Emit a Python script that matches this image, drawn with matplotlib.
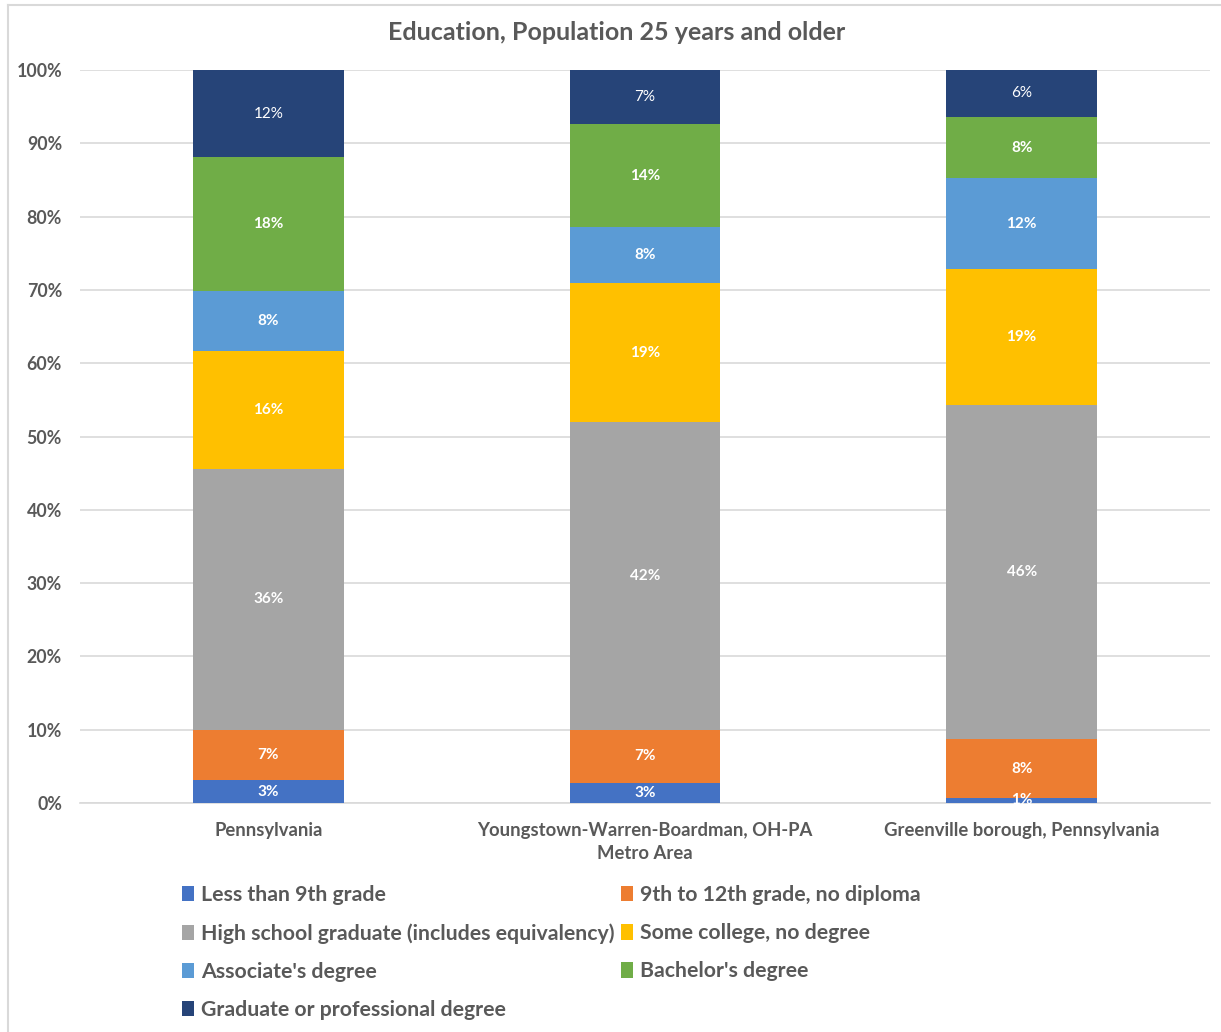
import matplotlib
matplotlib.use("Agg")
import matplotlib.pyplot as plt
from matplotlib.lines import Line2D
from matplotlib.patches import Patch
import numpy as np

plt.rcParams['font.family'] = ['Lato', 'DejaVu Sans']

areas = ["Pennsylvania",
         "Youngstown-Warren-Boardman, OH-PA\nMetro Area",
         "Greenville borough, Pennsylvania"]

levels = ["Less than 9th grade",
          "9th to 12th grade, no diploma",
          "High school graduate (includes equivalency)",
          "Some college, no degree",
          "Associate's degree",
          "Bachelor's degree",
          "Graduate or professional degree"]

# share of population 25+ (percent), one list per education level
less_than_9th = [3.1, 2.7, 0.7]
grade_9_to_12 = [6.9, 7.3, 8.0]
high_school = [35.6, 42.0, 45.6]
some_college = [16.1, 18.9, 18.6]
associate = [8.1, 7.7, 12.3]
bachelor = [18.3, 14.0, 8.4]
graduate = [11.9, 7.4, 6.4]

series = [less_than_9th, grade_9_to_12, high_school, some_college,
          associate, bachelor, graduate]
colors = ["#4472C4", "#ED7D31", "#A5A5A5", "#FFC000",
          "#5B9BD5", "#70AD47", "#264478"]

W, H = 1221, 1032
fig = plt.figure(figsize=(W / 100, H / 100), dpi=100)
ax = fig.add_axes([80 / W, 1 - 803 / H, (1210 - 80) / W, (803 - 70) / H])

x = np.arange(len(areas))
bottom = np.zeros(len(areas))
for vals, col, name in zip(series, colors, levels):
    vals = np.array(vals)
    ax.bar(x, vals, 0.40, bottom=bottom, color=col, label=name,
           edgecolor="none", zorder=3)
    for xi, v, b in zip(x, vals, bottom):
        weight = "normal" if name.startswith("Graduate") else "bold"
        ax.text(xi, b + v / 2, f"{v:.0f}%", ha="center", va="center",
                color="white", fontsize=11, fontweight=weight, zorder=4)
    bottom += vals

ax.set_xlim(-0.5, 2.5)
ax.set_ylim(0, 100)
ax.set_yticks(np.arange(0, 101, 10))
ax.set_yticklabels([f"{t}%" for t in range(0, 101, 10)])
ax.yaxis.grid(True, color="#D9D9D9", linewidth=1.2, zorder=0)
for s in ax.spines.values():
    s.set_visible(False)
ax.spines["bottom"].set_visible(True)
ax.spines["bottom"].set_color("#D9D9D9")
ax.spines["bottom"].set_linewidth(1.2)
ax.tick_params(axis="both", length=0, colors="#595959")
ax.tick_params(axis="y", pad=13, labelsize=12.8)
ax.tick_params(axis="x", pad=14, labelsize=13.3)
ax.set_xticks(x)
ax.set_xticklabels(areas, fontweight="bold", linespacing=1.4)
for lab in ax.get_yticklabels():
    lab.set_fontweight("bold")

fig.text(617 / W, 1 - 32 / H, "Education, Population 25 years and older",
         ha="center", va="center", fontsize=18, fontweight="bold",
         color="#595959")

# legend laid out row by row across two columns
order = [0, 2, 4, 6, 1, 3, 5]
handles = [Patch(facecolor=colors[i], edgecolor="none") for i in order]
labels = [levels[i] for i in order]
leg = fig.legend(handles, labels, ncol=2, loc="upper left",
                 bbox_to_anchor=(163 / W, 1 - 866 / H), frameon=False,
                 fontsize=15.3, handlelength=0.55, handleheight=0.75,
                 handletextpad=0.35, columnspacing=0.3, labelspacing=0.85)
for t in leg.get_texts():
    t.set_color("#595959")
    t.set_fontweight("bold")

# chart frame (left and top edges)
fig.add_artist(Line2D([8 / W, 8 / W], [0, 1 - 5 / H], color="#D9D9D9",
                      linewidth=1.5, transform=fig.transFigure))
fig.add_artist(Line2D([8 / W, 1], [1 - 5 / H, 1 - 5 / H], color="#D9D9D9",
                      linewidth=1.5, transform=fig.transFigure))

fig.savefig("out.png", dpi=100, facecolor="white")
